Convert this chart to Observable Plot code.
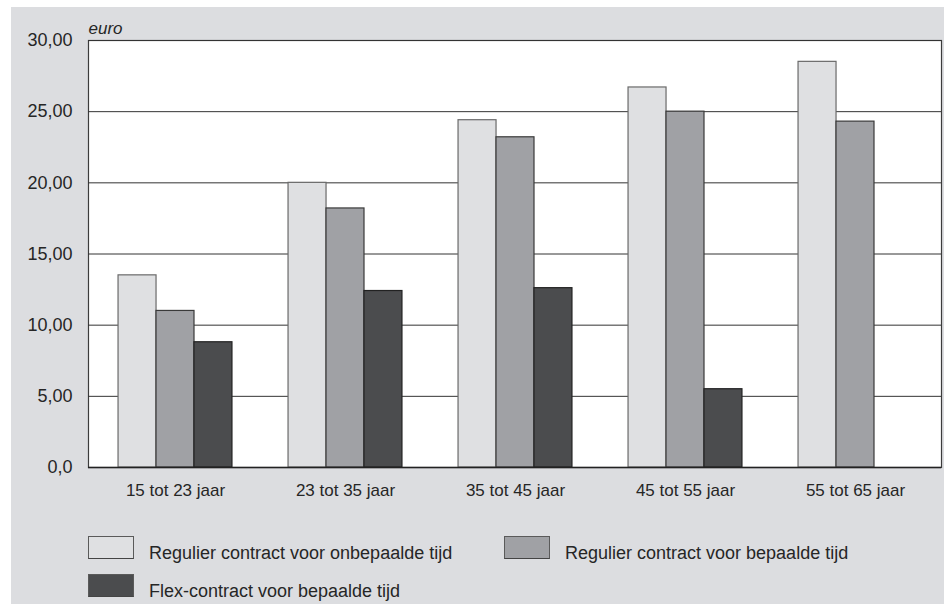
<!DOCTYPE html>
<html>
<head>
<meta charset="utf-8">
<script src="https://cdn.jsdelivr.net/npm/d3@7"></script>
<script src="https://cdn.jsdelivr.net/npm/@observablehq/plot@0.6"></script>
<style>
  html, body { margin: 0; padding: 0; background: #ffffff; }
  body { width: 944px; height: 604px; position: relative; overflow: hidden; font-family: "Liberation Sans", Arial, Helvetica, sans-serif; }
  #panel { position: absolute; left: 11px; top: 7px; width: 933px; height: 597px; background: #dcdde0; }
  #chart { position: absolute; left: 0; top: 0; }
  .sw { position: absolute; width: 44px; height: 21px; border: 1px solid #5a5a5a; border-bottom-color: #444; }
  .lt { position: absolute; font-size: 18px; line-height: 18px; color: #262626; white-space: nowrap; }
</style>
</head>
<body>
<div id="panel"></div>
<div id="chart"></div>
<div id="legend"></div>
<script>
// ---- data ----
const ageGroups = ["15 tot 23 jaar", "23 tot 35 jaar", "35 tot 45 jaar", "45 tot 55 jaar", "55 tot 65 jaar"];
const seriesNames = [
  "Regulier contract voor onbepaalde tijd",
  "Regulier contract voor bepaalde tijd",
  "Flex-contract voor bepaalde tijd"
];
const regulierOnbepaald = [13.5, 20.0, 24.4, 26.7, 28.5];
const regulierBepaald   = [11.0, 18.2, 23.2, 25.0, 24.3];
const flexBepaald       = [8.8, 12.4, 12.6, 5.5, null];
const yTicks = [0, 5, 10, 15, 20, 25, 30];
const seriesColors = ["#dfe0e2", "#a0a1a5", "#4b4c4e"];
const seriesStrokes = ["#6a6a6a", "#3a3a3a", "#222222"];

const seriesValues = [regulierOnbepaald, regulierBepaald, flexBepaald];
const rows = [];
seriesNames.forEach((s, si) => {
  ageGroups.forEach((a, ai) => {
    const v = seriesValues[si][ai];
    if (v != null) rows.push({age: a, series: s, value: v, si});
  });
});

const bandOffset = 37.96; // one bar width: bars of a group sit side by side
const fmt = d => d === 0 ? "0,0" : d.toFixed(2).replace(".", ",");

const chart = Plot.plot({
  width: 944,
  height: 510,
  marginTop: 40,
  marginRight: 3,
  marginBottom: 43,
  marginLeft: 88,
  style: {background: "transparent", fontFamily: "'Liberation Sans', Arial, Helvetica, sans-serif", color: "#262626"},
  x: {domain: ageGroups, paddingInner: 0.7775, paddingOuter: 0.38875, axis: null, label: null},
  y: {domain: [0, 30], axis: null, label: null},
  color: {domain: seriesNames, range: seriesColors},
  marks: [
    Plot.frame({fill: "white", stroke: "#3c3c3c", strokeWidth: 1.2}),
    Plot.gridY(yTicks, {stroke: "#333", strokeOpacity: 1, strokeWidth: 1}),
    ...seriesNames.map((s, si) =>
      Plot.barY(rows.filter(r => r.si === si), {
        x: "age", y: "value", fill: "series",
        stroke: seriesStrokes[si], strokeWidth: 1.2,
        dx: (si - 1) * bandOffset
      })
    ),
    Plot.ruleY([0], {stroke: "#222", strokeWidth: 1.5}),
    Plot.axisY(yTicks, {tickSize: 0, tickPadding: 16, tickFormat: fmt, fontSize: 18, label: null}),
    Plot.axisX({tickSize: 0, tickPadding: 16, fontSize: 17, label: null}),
    Plot.text(["euro"], {frameAnchor: "top-left", textAnchor: "start", lineAnchor: "bottom", dy: -7, fontSize: 17, fontStyle: "italic"})
  ]
});
document.getElementById("chart").appendChild(chart);

// ---- legend ----
const legendPos = [
  {sx: 88, sy: 536, tx: 149, ty: 544},
  {sx: 504, sy: 536, tx: 565, ty: 544},
  {sx: 88, sy: 574, tx: 149, ty: 582}
];
const legend = document.getElementById("legend");
seriesNames.forEach((s, i) => {
  const p = legendPos[i];
  const sw = document.createElement("div");
  sw.className = "sw";
  sw.style.left = p.sx + "px";
  sw.style.top = p.sy + "px";
  sw.style.background = seriesColors[i];
  legend.appendChild(sw);
  const t = document.createElement("div");
  t.className = "lt";
  t.style.left = p.tx + "px";
  t.style.top = p.ty + "px";
  t.textContent = s;
  legend.appendChild(t);
});
</script>
</body>
</html>
